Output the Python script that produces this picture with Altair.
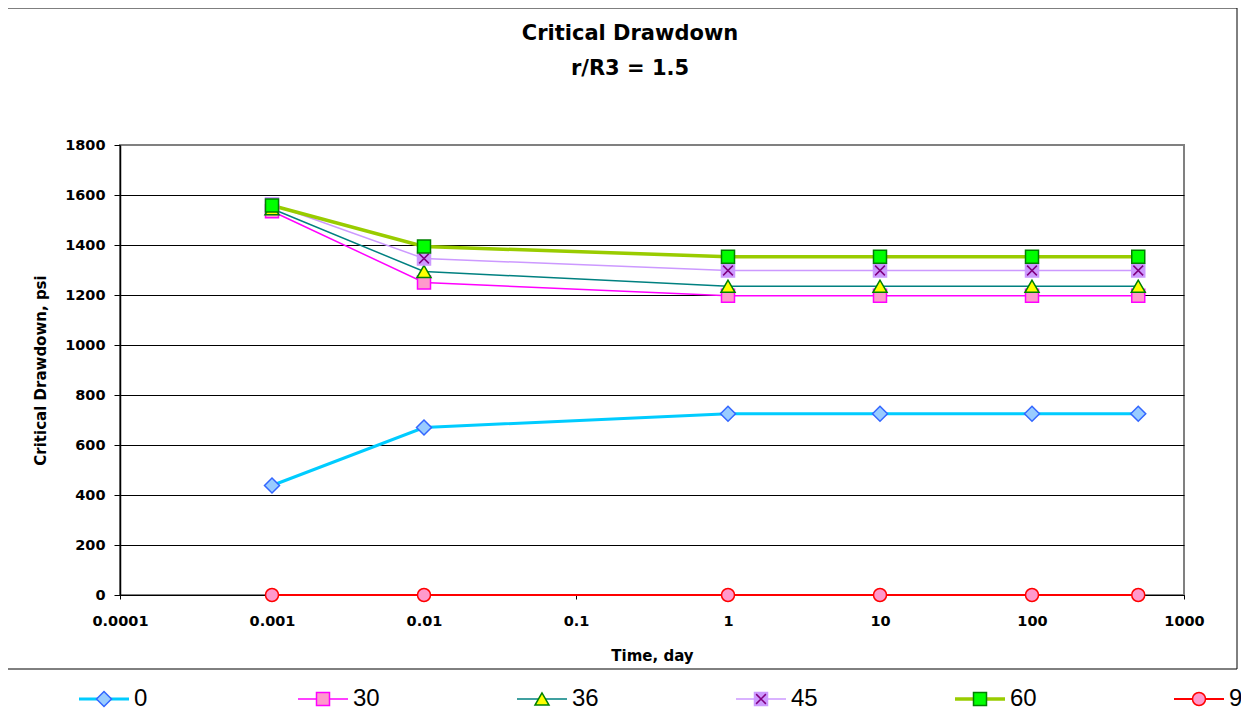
import altair as alt
import pandas as pd

# ---------------- data ----------------
time_days = [0.001, 0.01, 1, 10, 100, 500]
series_names = ["0", "30", "36", "45", "60", "90"]
s_0 = [438, 670, 725, 725, 725, 725]
s_30 = [1535, 1250, 1197, 1197, 1197, 1197]
s_36 = [1545, 1294, 1235, 1235, 1235, 1235]
s_45 = [1563, 1346, 1298, 1298, 1298, 1298]
s_60 = [1558, 1394, 1353, 1353, 1353, 1353]
s_90 = [0, 0, 0, 0, 0, 0]
x_ticks = [0.0001, 0.001, 0.01, 0.1, 1, 10, 100, 1000]
y_ticks = [0, 200, 400, 600, 800, 1000, 1200, 1400, 1600, 1800]

title_line_1 = "Critical Drawdown"
title_line_2 = "r/R3 = 1.5"
x_title = "Time, day"
y_title = "Critical Drawdown, psi"

# ---------------- styles ----------------
line_colors = ["#00ccff", "#ff00ff", "#008080", "#cc99ff", "#99cc00", "#ff0000"]
line_widths = [3, 1.5, 1.5, 1.5, 3.5, 2]
marker_shapes = ["diamond", "square", "triangle-up", "square", "square", "circle"]
marker_fills = ["#99ccff", "#ff99cc", "#ffff00", "#cc99ff", "#00ff00", "#ff99cc"]
marker_strokes = ["#3366ff", "#ff00ff", "#008000", "#cc99ff", "#008000", "#ff0000"]
marker_sizes = [225, 169, 196, 169, 169, 169]
x_path = "M-0.75,-0.75L0.75,0.75M0.75,-0.75L-0.75,0.75"

values = [s_0, s_30, s_36, s_45, s_60, s_90]
rows = []
for i, (name, vals) in enumerate(zip(series_names, values)):
    for t, v in zip(time_days, vals):
        rows.append({"series": name, "time": t, "value": v,
                     "lw": line_widths[i], "ms": marker_sizes[i]})
df = pd.DataFrame(rows)
leg_df = pd.DataFrame({"series": series_names, "slot": list(range(len(series_names))),
                       "lw": line_widths, "ms": marker_sizes})

FONT_B = "DejaVu Sans"

x_enc = alt.X(
    "time:Q",
    scale=alt.Scale(type="log", domain=[0.0001, 1000]),
    axis=alt.Axis(
        values=x_ticks, format="~g", title=x_title, grid=False,
        labelFont=FONT_B, labelFontWeight="bold", labelFontSize=14.5,
        labelColor="black", tickColor="black", tickSize=4, labelPadding=15,
        domainColor="black", domainWidth=1,
        titleFont=FONT_B, titleFontWeight="bold", titleFontSize=15,
        titleColor="black", titleY=60, titleBaseline="middle",
        labelFlush=False, labelOverlap=False,
    ),
)
y_enc = alt.Y(
    "value:Q",
    scale=alt.Scale(domain=[0, 1800], nice=False),
    axis=alt.Axis(
        values=y_ticks, format="d", title=y_title,
        grid=True,
        gridColor=alt.condition("datum.value == 1800", alt.value("#808080"), alt.value("black")),
        gridWidth=1,
        labelFont=FONT_B, labelFontWeight="bold", labelFontSize=14.5,
        labelColor="black", tickColor="black", tickSize=6, labelPadding=9,
        domainColor="black", domainWidth=1.5,
        titleFont=FONT_B, titleFontWeight="bold", titleFontSize=15,
        titleColor="black", titleX=-80, titleY=225, titleAngle=270,
        titleAlign="center", titleBaseline="middle",
    ),
)

color_enc = alt.Color("series:N", scale=alt.Scale(domain=series_names, range=line_colors), legend=None)
sw_enc = alt.StrokeWidth("lw:Q", scale=None, legend=None)
shape_enc = alt.Shape("series:N", scale=alt.Scale(domain=series_names, range=marker_shapes), legend=None)
fill_enc = alt.Fill("series:N", scale=alt.Scale(domain=series_names, range=marker_fills), legend=None)
stroke_enc = alt.Stroke("series:N", scale=alt.Scale(domain=series_names, range=marker_strokes), legend=None)
size_enc = alt.Size("ms:Q", scale=None, legend=None)

base = alt.Chart(df)
lines = base.mark_line().encode(x=x_enc, y=y_enc, color=color_enc, strokeWidth=sw_enc)
points_a = base.transform_filter(
    alt.FieldOneOfPredicate(field="series", oneOf=["0", "30", "36", "45"])
).mark_point(filled=True, opacity=1, strokeWidth=1.5).encode(
    x=x_enc, y=y_enc, shape=shape_enc, fill=fill_enc, stroke=stroke_enc, size=size_enc
)
x_marks = base.transform_filter(alt.datum.series == "45").mark_point(
    shape=x_path, filled=False, stroke="#800080", strokeWidth=1.5, size=169, opacity=1
).encode(x=x_enc, y=y_enc)
points_b = base.transform_filter(
    alt.FieldOneOfPredicate(field="series", oneOf=["60", "90"])
).mark_point(filled=True, opacity=1, strokeWidth=1.5).encode(
    x=x_enc, y=y_enc, shape=shape_enc, fill=fill_enc, stroke=stroke_enc, size=size_enc
)

one_row = alt.Data(values=[{"a": 1}])
title_1 = alt.Chart(one_row).mark_text(
    font=FONT_B, fontWeight="bold", fontSize=21, color="black",
    align="center", baseline="middle", text=title_line_1,
).encode(x=alt.value(510), y=alt.value(-111))
title_2 = alt.Chart(one_row).mark_text(
    font=FONT_B, fontWeight="bold", fontSize=21, color="black",
    align="center", baseline="middle", text=title_line_2,
).encode(x=alt.value(510), y=alt.value(-76))

main = alt.layer(lines, points_a, x_marks, points_b)

# ---------------- legend ----------------
leg_x = alt.X("slot:Q", scale=alt.Scale(domain=[0, 5], range=[-16, 1079]), axis=None)
leg_y = alt.value(554)
leg_base = alt.Chart(leg_df)
leg_lines = leg_base.mark_rule(xOffset=-25, x2Offset=25).encode(
    x=leg_x, x2="slot", y=leg_y, color=color_enc, strokeWidth=sw_enc
)
leg_points_a = leg_base.transform_filter(
    alt.FieldOneOfPredicate(field="series", oneOf=["0", "30", "36", "45"])
).mark_point(filled=True, opacity=1, strokeWidth=1.5).encode(
    x=leg_x, y=leg_y, shape=shape_enc, fill=fill_enc, stroke=stroke_enc, size=size_enc
)
leg_x_marks = leg_base.transform_filter(alt.datum.series == "45").mark_point(
    shape=x_path, filled=False, stroke="#800080", strokeWidth=1.5, size=169, opacity=1
).encode(x=leg_x, y=leg_y)
leg_points_b = leg_base.transform_filter(
    alt.FieldOneOfPredicate(field="series", oneOf=["60", "90"])
).mark_point(filled=True, opacity=1, strokeWidth=1.5).encode(
    x=leg_x, y=leg_y, shape=shape_enc, fill=fill_enc, stroke=stroke_enc, size=size_enc
)
leg_text = leg_base.mark_text(
    font="Liberation Sans", fontSize=24, color="black", align="left", baseline="middle", dx=30
).encode(x=leg_x, y=leg_y, text="series:N")

border = alt.Chart(one_row).mark_rect(
    filled=False, stroke="black", strokeWidth=1
).encode(x=alt.value(-113), x2=alt.value(1117), y=alt.value(-137), y2=alt.value(524))

legend = alt.layer(leg_lines, leg_points_a, leg_x_marks, leg_points_b, leg_text, border)

chart = alt.layer(main, legend, title_1, title_2).resolve_scale(x="independent").properties(
    width=1064,
    height=450,
    autosize=alt.AutoSizeParams(type="none"),
    padding={"left": 112, "top": 137, "right": 57, "bottom": 119},
    background="white",
).configure_view(stroke="#808080", strokeWidth=2)

chart.save("out.html", embed_options={"renderer": "svg", "actions": False})
